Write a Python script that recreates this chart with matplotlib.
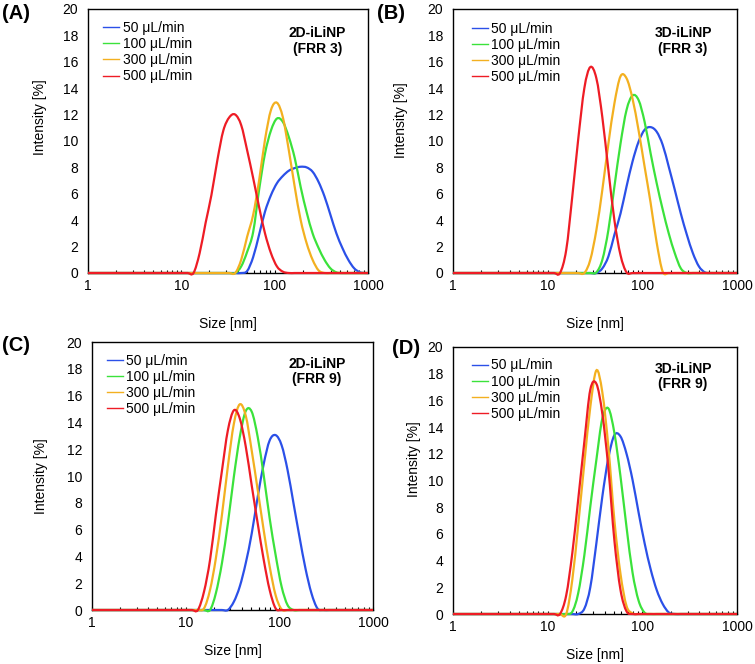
import matplotlib
matplotlib.use("Agg")
import numpy as np
import matplotlib.pyplot as plt
from matplotlib.path import Path
from matplotlib.patches import PathPatch
from matplotlib.ticker import LogLocator, NullFormatter

plt.rcParams['font.family'] = ['Liberation Sans', 'DejaVu Sans']
plt.rcParams['font.size'] = 10

# DLS size bins [nm]
sizes = [1, 10.1, 11.7, 13.5, 15.7, 18.2, 21.0, 24.4, 28.2, 32.7, 37.8, 43.8,
         50.7, 58.8, 68.1, 78.8, 91.3, 105.7, 122.4, 141.8, 164.2, 190.1,
         220.2, 255.0, 295.3, 342.0, 396.1, 458.7, 531.2, 615.1, 712.4, 825.0,
         955.4, 1000]

flow_labels = ["50 μL/min", "100 μL/min", "300 μL/min", "500 μL/min"]
colors = ["#2b50e8", "#3be23b", "#f3b020", "#ee1c25"]

# (A) 2D-iLiNP FRR 3
a_50 = [0, 0, 0, 0, 0, 0, 0, 0, 0, 0, 0, 0, 0.15, 1.2, 2.9, 4.65, 5.9, 6.8,
        7.35, 7.75, 7.95, 8.05, 8.0, 7.67, 6.9, 5.8, 4.4, 3.0, 1.9, 1.0, 0.35,
        0.05, 0, 0]
a_100 = [0, 0, 0, 0, 0, 0, 0, 0, 0, 0, 0, 0.5, 1.6, 3.1, 6.3, 9.05, 10.8, 11.7,
         11.45, 10.3, 8.7, 6.5, 4.6, 3.0, 1.9, 1.0, 0.35, 0.05, 0, 0, 0, 0, 0, 0]
a_300 = [0, 0, 0, 0, 0, 0, 0, 0, 0, 0, 0, 1.0, 2.75, 4.4, 7.0, 10.1, 12.35,
         12.9, 11.8, 9.3, 6.5, 4.0, 2.25, 1.0, 0.2, 0, 0, 0, 0, 0, 0, 0, 0, 0]
a_500 = [0, 0, 0, 0, 1.5, 3.8, 5.9, 8.6, 10.8, 11.8, 12.0, 11.2, 9.3, 7.2, 5.0,
         3.0, 1.5, 0.5, 0.1, 0, 0, 0, 0, 0, 0, 0, 0, 0, 0, 0, 0, 0, 0, 0]

# (B) 3D-iLiNP FRR 3
b_50 = [0, 0, 0, 0, 0, 0, 0, 0, 0, 0, 0.35, 1.25, 2.9, 4.5, 6.55, 8.45, 9.95,
        10.85, 11.05, 10.7, 9.7, 8.05, 6.3, 4.5, 2.9, 1.5, 0.5, 0.05, 0, 0, 0,
        0, 0, 0]
b_100 = [0, 0, 0, 0, 0, 0, 0, 0, 0, 0.05, 1.0, 3.26, 6.55, 9.8, 12.35, 13.45,
         13.1, 11.45, 9.05, 6.8, 4.8, 3.0, 1.5, 0.35, 0, 0, 0, 0, 0, 0, 0, 0,
         0, 0]
b_300 = [0, 0, 0, 0, 0, 0, 0, 0, 1.0, 3.25, 6.3, 9.8, 12.85, 14.9, 14.75, 13.2,
         10.8, 8.05, 5.3, 2.3, 0.1, 0, 0, 0, 0, 0, 0, 0, 0, 0, 0, 0, 0, 0]
b_500 = [0, 0, 0, 0, 1.74, 5.8, 10.1, 14.0, 15.6, 14.75, 11.8, 7.8, 4.0, 1.36,
         0.05, 0, 0, 0, 0, 0, 0, 0, 0, 0, 0, 0, 0, 0, 0, 0, 0, 0, 0, 0]

# (C) 2D-iLiNP FRR 9
c_50 = [0, 0, 0, 0, 0, 0, 0, 0, 0, 0.62, 1.75, 3.5, 5.7, 8.45, 10.9, 12.65,
        13.05, 12.3, 10.45, 7.95, 5.45, 3.1, 1.25, 0.12, 0, 0, 0, 0, 0, 0, 0,
        0, 0, 0]
c_100 = [0, 0, 0, 0, 0, 0, 1.25, 3.5, 6.45, 9.95, 12.9, 14.85, 14.8, 12.9,
         10.05, 6.85, 4.1, 1.75, 0.37, 0, 0, 0, 0, 0, 0, 0, 0, 0, 0, 0, 0, 0,
         0, 0]
c_300 = [0, 0, 0, 0, 0.12, 1.5, 3.85, 7.1, 10.7, 13.9, 15.35, 14.5, 11.9, 8.95,
         5.95, 3.25, 1.1, 0.05, 0, 0, 0, 0, 0, 0, 0, 0, 0, 0, 0, 0, 0, 0, 0, 0]
c_500 = [0, 0, 0, 0, 1.37, 3.73, 7.1, 10.4, 13.4, 14.9, 14.3, 12.2, 9.3, 6.45,
         3.75, 1.5, 0.12, 0, 0, 0, 0, 0, 0, 0, 0, 0, 0, 0, 0, 0, 0, 0, 0, 0]

# (D) 3D-iLiNP FRR 9
d_50 = [0, 0, 0, 0, 0, 0, 0, 0.4, 2.0, 5.3, 8.8, 11.7, 13.4, 13.3, 12.0,
        10.05, 7.6, 5.3, 3.35, 1.8, 0.75, 0.12, 0, 0, 0, 0, 0, 0, 0, 0, 0, 0,
        0, 0]
d_100 = [0, 0, 0, 0, 0, 0.17, 1.55, 4.4, 8.05, 11.55, 14.65, 15.4, 13.55, 10.3,
         6.5, 3.1, 1.0, 0.1, 0, 0, 0, 0, 0, 0, 0, 0, 0, 0, 0, 0, 0, 0, 0, 0]
d_300 = [0, 0, 0, 0, 0, 2.55, 6.65, 11.3, 15.5, 18.25, 16.6, 12.5, 7.0, 3.0,
         0.6, 0.05, 0, 0, 0, 0, 0, 0, 0, 0, 0, 0, 0, 0, 0, 0, 0, 0, 0, 0]
d_500 = [0, 0, 0, 0, 1.4, 4.55, 8.55, 12.9, 16.8, 17.25, 15.0, 10.9, 5.5, 1.8,
         0.2, 0, 0, 0, 0, 0, 0, 0, 0, 0, 0, 0, 0, 0, 0, 0, 0, 0, 0, 0]

panels = [
    ("(A)", "2D-iLiNP\n(FRR 3)", [a_50, a_100, a_300, a_500]),
    ("(B)", "3D-iLiNP\n(FRR 3)", [b_50, b_100, b_300, b_500]),
    ("(C)", "2D-iLiNP\n(FRR 9)", [c_50, c_100, c_300, c_500]),
    ("(D)", "3D-iLiNP\n(FRR 9)", [d_50, d_100, d_300, d_500]),
]


def smooth_path(x, y):
    # Excel-like "smoothed line": Catmull-Rom bezier in log-x space
    lx = np.log10(np.asarray(x, float))
    y = np.asarray(y, float)
    pts = np.column_stack([lx, y])
    n = len(pts)
    verts = [pts[0]]
    codes = [Path.MOVETO]
    for i in range(n - 1):
        p0 = pts[max(i - 1, 0)]
        p1 = pts[i]
        p2 = pts[i + 1]
        p3 = pts[min(i + 2, n - 1)]
        c1 = p1 + (p2 - p0) / 6
        c2 = p2 - (p3 - p1) / 6
        # keep control points inside the segment in x
        c1[0] = min(max(c1[0], p1[0]), p2[0])
        c2[0] = min(max(c2[0], p1[0]), p2[0])
        verts += [c1, c2, p2]
        codes += [Path.CURVE4] * 3
    verts = np.array(verts)
    verts[:, 0] = 10 ** verts[:, 0]
    return Path(verts, codes)


W, H = 755, 664
# pixel boxes: left, top, right, bottom
boxes = [(88, 9, 368, 273), (453, 9, 737, 273), (92, 342, 373, 610), (453, 347, 737, 614)]
ylab_pos = [(-0.146, 0.59), (-0.158, 0.58), (-0.157, 0.5), (-0.113, 0.58)]
xlab_top = [-0.167, -0.167, -0.127, -0.127]
leg_pos = [(0.054, 0.954), (0.067, 0.952), (0.052, 0.957), (0.067, 0.957)]
note_pos = [(0.82, 0.935), (0.81, 0.935), (0.80, 0.945), (0.81, 0.945)]
letter_pos = [(2, 4), (377, 4), (2, 336), (392, 339)]

fig = plt.figure(figsize=(W / 100, H / 100), dpi=100)

for i, (letter, note, series) in enumerate(panels):
    l, t, r, b = boxes[i]
    ax = fig.add_axes([l / W, 1 - b / H, (r - l) / W, (b - t) / H])
    ax.set_xscale('log')
    ax.set_xlim(1, 1000)
    ax.set_ylim(0, 20)
    for y, c, lab in zip(series, colors, flow_labels):
        ax.add_patch(PathPatch(smooth_path(sizes, y), fill=False, edgecolor=c,
                               lw=1.6, clip_on=False, zorder=3,
                               transform=ax.transData))
        ax.plot([], [], color=c, lw=1.0, label=lab)
    ax.set_xticks([1, 10, 100, 1000])
    ax.set_xticklabels(["1", "10", "100", "1000"])
    ax.xaxis.set_minor_locator(LogLocator(base=10, subs=range(2, 10)))
    ax.xaxis.set_minor_formatter(NullFormatter())
    ax.set_yticks(range(0, 21, 2))
    ax.tick_params(axis='x', which='both', direction='in', length=2.5, width=0.8,
                   top=False, pad=4, labelsize=10)
    ax.tick_params(axis='y', length=0, pad=7, labelsize=10)
    for sp in ax.spines.values():
        sp.set_linewidth(1.0)
        sp.set_color('black')
    ax.set_ylabel("Intensity [%]", fontsize=10)
    ax.yaxis.set_label_coords(*ylab_pos[i])
    ax.set_xlabel("Size [nm]", fontsize=10, va='top')
    ax.xaxis.set_label_coords(0.5, xlab_top[i])
    ax.legend(loc='upper left', bbox_to_anchor=leg_pos[i], frameon=False,
              handlelength=1.15, handletextpad=0.25, labelspacing=0.15,
              borderpad=0, borderaxespad=0, fontsize=10)
    ax.text(note_pos[i][0], note_pos[i][1], note, transform=ax.transAxes,
            ha='center', va='top', fontsize=10, fontweight='bold', linespacing=1.15)
    fig.text(letter_pos[i][0] / W, 1 - letter_pos[i][1] / H, letter,
             ha='left', va='top', fontsize=14.5, fontweight='bold')

fig.savefig("out.png", dpi=100)
